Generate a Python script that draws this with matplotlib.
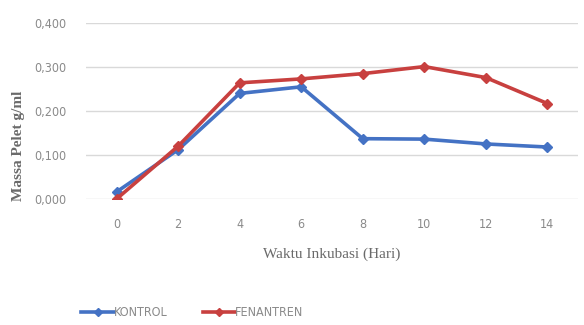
import matplotlib.pyplot as plt
from matplotlib.ticker import FuncFormatter

days = [0, 2, 4, 6, 8, 10, 12, 14]
kontrol = [0.016, 0.112, 0.240, 0.255, 0.137, 0.136, 0.125, 0.118]
fenantren = [0.000, 0.120, 0.264, 0.273, 0.285, 0.301, 0.276, 0.217]
yticks = [0.0, 0.1, 0.2, 0.3, 0.4]

blue = '#4472C4'
red = '#C8403F'
grey = '#8a8a8a'

fig = plt.figure(figsize=(5.84, 3.25), dpi=100)
ax = fig.add_axes([0.147, 0.388, 0.843, 0.541])

ax.plot(days, kontrol, color=blue, lw=2.6, marker='D', ms=5, label='KONTROL', zorder=3)
ax.plot(days, fenantren, color=red, lw=2.6, marker='D', ms=5, label='FENANTREN', zorder=4)

ax.set_xlim(-1, 15)
ax.set_ylim(0, 0.4)
ax.set_xticks(days)
ax.set_yticks(yticks)
ax.yaxis.set_major_formatter(FuncFormatter(lambda v, p: f"{v:.3f}".replace('.', ',')))
ax.grid(axis='y', color='#d9d9d9', lw=1)
ax.set_axisbelow(True)
for s in ax.spines.values():
    s.set_visible(False)
ax.tick_params(length=0, colors=grey, labelsize=9, pad=14)
for lab in ax.get_xticklabels() + ax.get_yticklabels():
    lab.set_family('DejaVu Sans')
    lab.set_stretch('condensed')

ax.set_xlabel('Waktu Inkubasi (Hari)', family='Liberation Serif', fontsize=11,
              color='#6a6a6a', labelpad=12)
ax.set_ylabel('Massa Pelet g/ml', family='Liberation Serif', fontsize=11,
              fontweight='bold', color='#6a6a6a')
ax.yaxis.set_label_coords(-0.124, 0.3)

leg = fig.legend(loc='center left', bbox_to_anchor=(0.12, 0.037), ncol=2, frameon=False,
                 handlelength=2.6, columnspacing=2.8, handletextpad=0.0, markerscale=0.8,
                 prop={'family': 'DejaVu Sans', 'stretch': 'condensed', 'size': 9})
for t in leg.get_texts():
    t.set_color(grey)

fig.savefig('out.png', dpi=100)
